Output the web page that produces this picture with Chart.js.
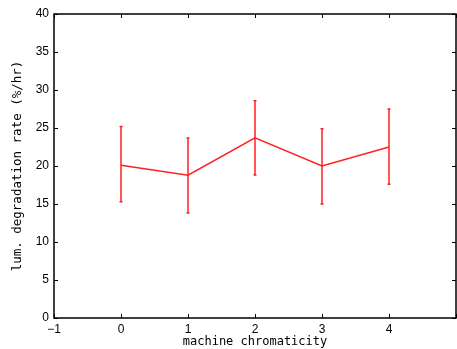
<!DOCTYPE html>
<html>
<head>
<meta charset="utf-8">
<script src="https://cdn.jsdelivr.net/npm/chart.js@4"></script>
<style>
  html, body { margin: 0; padding: 0; background: #fff; overflow: hidden; }
  #wrap { width: 460px; height: 349px; }
</style>
</head>
<body>
<div id="wrap"><canvas id="grafico"></canvas></div>
<script>
const cromaticidade = [0, 1, 2, 3, 4];
const taxaMedia = [20.1, 18.8, 23.7, 20.0, 22.5];
const erroSup = [25.2, 23.7, 28.6, 24.9, 27.5];
const erroInf = [15.3, 13.8, 18.8, 15.0, 17.6];

// moldura e ticks para dentro, estilo matlab
const molduraPlugin = {
    id: 'moldura',
    afterDatasetsDraw(chart) {
        const { ctx, chartArea: a, scales } = chart;
        ctx.save();
        ctx.strokeStyle = '#000';
        ctx.lineWidth = 1;
        ctx.beginPath();
        scales.x.ticks.forEach(t => {
            const px = Math.round(scales.x.getPixelForValue(t.value)) + 0.5;
            ctx.moveTo(px, a.bottom); ctx.lineTo(px, a.bottom - 4);
            ctx.moveTo(px, a.top); ctx.lineTo(px, a.top + 4);
        });
        scales.y.ticks.forEach(t => {
            const py = Math.round(scales.y.getPixelForValue(t.value)) + 0.5;
            ctx.moveTo(a.left, py); ctx.lineTo(a.left + 4, py);
            ctx.moveTo(a.right, py); ctx.lineTo(a.right - 4, py);
        });
        ctx.stroke();
        ctx.lineWidth = 1.5;
        ctx.strokeRect(a.left, a.top, a.right - a.left, a.bottom - a.top);
        ctx.restore();
    }
};

const barrasErroPlugin = {
    id: 'barrasErro',
    afterDatasetsDraw(chart) {
        const { ctx, scales } = chart;
        ctx.save();
        ctx.strokeStyle = '#ff2020';
        ctx.lineWidth = 1.5;
        cromaticidade.forEach((c, i) => {
            const px = scales.x.getPixelForValue(c);
            const yTop = scales.y.getPixelForValue(erroSup[i]);
            const yBot = scales.y.getPixelForValue(erroInf[i]);
            ctx.beginPath();
            ctx.moveTo(px, yTop); ctx.lineTo(px, yBot);
            ctx.moveTo(px - 1.5, yTop); ctx.lineTo(px + 1.5, yTop);
            ctx.moveTo(px - 1.5, yBot); ctx.lineTo(px + 1.5, yBot);
            ctx.stroke();
        });
        ctx.restore();
    }
};

new Chart(document.getElementById('grafico'), {
    type: 'line',
    data: {
        datasets: [{
            data: cromaticidade.map((c, i) => ({ x: c, y: taxaMedia[i] })),
            borderColor: '#ff2020',
            borderWidth: 1.5,
            pointRadius: 0,
            fill: false,
            tension: 0
        }]
    },
    options: {
        responsive: true,
        maintainAspectRatio: false,
        animation: false,
        layout: { padding: { top: 14, right: 2, left: 0, bottom: 0 } },
        plugins: { legend: { display: false }, tooltip: { enabled: false } },
        scales: {
            x: {
                type: 'linear',
                min: -1,
                max: 5,
                grid: { display: false, drawTicks: false, tickLength: 0 },
                border: { display: false },
                afterFit: s => { s.height = 31; },
                ticks: {
                    stepSize: 1,
                    padding: 4,
                    color: '#000',
                    font: { family: 'Liberation Sans', size: 12 },
                    callback: v => (v === 5 ? '' : String(v).replace('-', '\u2212'))
                },
                title: {
                    display: true,
                    text: 'machine chromaticity',
                    color: '#000',
                    padding: 0,
                    font: { family: 'DejaVu Sans Mono', size: 12 }
                }
            },
            y: {
                min: 0,
                max: 40,
                grid: { display: false, drawTicks: false, tickLength: 0 },
                border: { display: false },
                afterFit: s => { s.width = 54; },
                ticks: {
                    stepSize: 5,
                    padding: 5,
                    color: '#000',
                    font: { family: 'Liberation Sans', size: 12 }
                },
                title: {
                    display: true,
                    text: 'lum. degradation rate (%/hr)',
                    color: '#000',
                    padding: { top: 10, bottom: 0 },
                    font: { family: 'DejaVu Sans Mono', size: 12.5 }
                }
            }
        }
    },
    plugins: [barrasErroPlugin, molduraPlugin]
});
</script>
</body>
</html>
